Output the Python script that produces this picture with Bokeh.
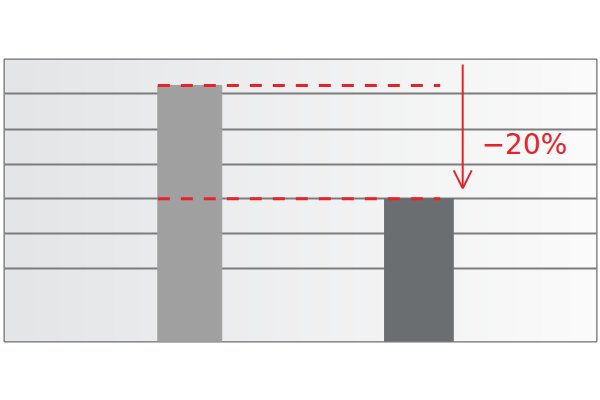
import numpy as np
from bokeh.plotting import figure
from bokeh.models import Range1d, FixedTicker, Arrow, OpenHead, ColumnDataSource
from bokeh.core.properties import value
from bokeh.embed import file_html
from bokeh.resources import INLINE

# ---- data ----
categories = ["Before", "After"]
bar_x = [31.3, 70.0]          # bar centres on a 0-100 horizontal scale
bar_values = [90.8, 50.6]     # bar heights on a 0-100 vertical scale
grid_ticks = [26.0, 38.3, 50.6, 62.9, 75.2, 87.8]
change_label = "\u221220%"

# ---- styles ----
bar_widths = [10.8, 11.6]
bar_colors = ["#a0a0a0", "#6b6e71"]
red = "#e6222b"

p = figure(width=598, height=380, output_backend="svg", toolbar_location=None,
           x_range=Range1d(0, 100), y_range=Range1d(0, 100),
           min_border_left=4, min_border_right=2, min_border_top=59, min_border_bottom=39)
p.xaxis.visible = False
p.yaxis.visible = False
p.xgrid.visible = False
p.ygrid.ticker = FixedTicker(ticks=grid_ticks)
p.ygrid.grid_line_color = "#7c7c7c"
p.ygrid.grid_line_width = 2
p.outline_line_color = "#6e6e6e"
p.outline_line_width = 2
p.background_fill_color = "#eeeeef"
p.border_fill_color = "white"

# background gradient (left darker, right lighter)
n = 256
t = np.linspace(0, 1, n)
left = np.array([0xe4, 0xe5, 0xe7])
right = np.array([0xfb, 0xfb, 0xfb])
cols = (left[None, :] * (1 - t[:, None]) + right[None, :] * t[:, None]).astype(np.uint32)
img = np.empty((1, n), dtype=np.uint32)
img[0, :] = (255 << 24) | (cols[:, 2] << 16) | (cols[:, 1] << 8) | cols[:, 0]
bg = p.image_rgba(image=[img], x=0, y=0, dw=100, dh=100)
bg.level = "image"

src = ColumnDataSource(dict(cat=categories, x=bar_x, top=bar_values,
                            w=bar_widths, color=bar_colors))
p.vbar(x="x", top="top", bottom=0, width="w", color="color", source=src)

# dashed reference lines from the left edge of the first bar
x_start = bar_x[0] - bar_widths[0] / 2
x_end = 73.6
p.segment(x0=[x_start, x_start], x1=[x_end, x_end], y0=bar_values, y1=bar_values,
          line_color=red, line_width=3, line_dash="12 11")

# arrow showing the drop
arrow_x = 77.4
p.add_layout(Arrow(end=OpenHead(size=18, line_color=red, line_width=2),
                   x_start=arrow_x, y_start=98.2, x_end=arrow_x, y_end=bar_values[1] + 3.7,
                   line_color=red, line_width=2))

p.text(x=[80.6], y=[69.9], text=[change_label], text_color=red,
       text_font=value("DejaVu Sans"), text_font_size="28px",
       text_align="left", text_baseline="middle")

open("out.html", "w").write(file_html(p, INLINE))
